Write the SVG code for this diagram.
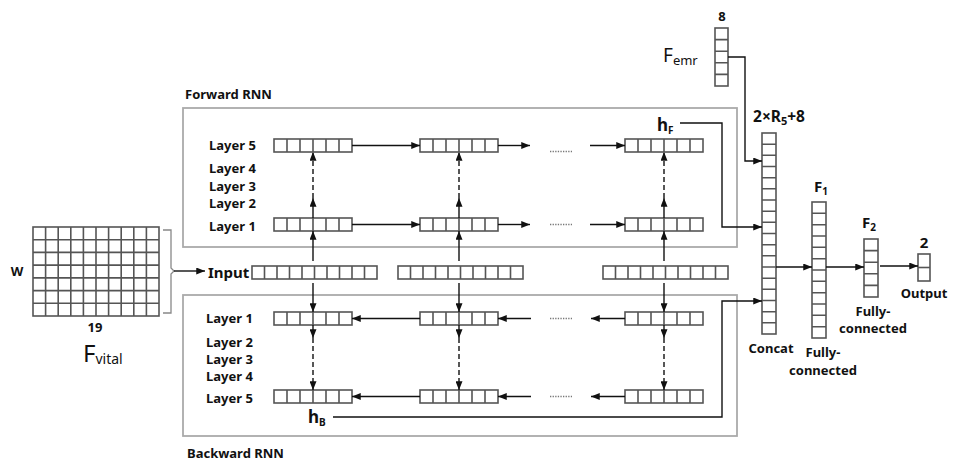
<svg xmlns="http://www.w3.org/2000/svg" xmlns:xlink="http://www.w3.org/1999/xlink" width="968" height="461" viewBox="0 0 968 461">
<style>
text{font-family:"Noto Sans","Open Sans","Liberation Sans",sans-serif;fill:#111}
.b{font-weight:bold;font-size:13px}
.lbl{font-weight:bold;font-size:13px;dominant-baseline:central}
.cell{fill:#fff;stroke:#555;stroke-width:1.6}
.grp{fill:none;stroke:#aaa;stroke-width:1.8}
.c{fill:none;stroke:#111;stroke-width:1.4}
.d{fill:none;stroke:#111;stroke-width:1.4;stroke-dasharray:5 3}
.dots{fill:none;stroke:#777;stroke-width:1.4;stroke-dasharray:1.3 1.3}
</style>
<defs>
<marker id="ah" viewBox="0 0 10 8" refX="10" refY="4" markerWidth="9" markerHeight="7" orient="auto" markerUnits="userSpaceOnUse"><path d="M0,0 L10,4 L0,8 z" fill="#111"/></marker>
<g id="v6"><rect class="cell" x="0" y="0" width="78" height="13"/><path class="cell" d="M13,0V13M26,0V13M39,0V13M52,0V13M65,0V13"/></g>
<g id="v10"><rect class="cell" x="0" y="0" width="125" height="13"/><path class="cell" d="M12.5,0V13M25,0V13M37.5,0V13M50,0V13M62.5,0V13M75,0V13M87.5,0V13M100,0V13M112.5,0V13"/></g>
</defs>
<rect width="968" height="461" fill="#fff"/>

<!-- group frames -->
<g id="forward-rnn">
<rect class="grp" x="183" y="108" width="554" height="139"/>
<text class="lbl" x="185" y="94">Forward  RNN</text>
<text class="lbl" x="209" y="145">Layer 5</text>
<text class="lbl" x="209" y="168">Layer 4</text>
<text class="lbl" x="209" y="186">Layer 3</text>
<text class="lbl" x="209" y="203">Layer 2</text>
<text class="lbl" x="209" y="226">Layer 1</text>
</g>
<g id="backward-rnn">
<rect class="grp" x="183" y="295" width="554" height="141"/>
<text class="lbl" x="187" y="453">Backward  RNN</text>
<text class="lbl" x="206" y="318">Layer 1</text>
<text class="lbl" x="206" y="342">Layer 2</text>
<text class="lbl" x="206" y="359">Layer 3</text>
<text class="lbl" x="206" y="376">Layer 4</text>
<text class="lbl" x="206" y="398">Layer 5</text>
</g>

<!-- F_vital matrix -->
<g id="f-vital">
<rect class="cell" x="33" y="227" width="126" height="89"/>
<path class="cell" d="M45.6,227V316M58.2,227V316M70.8,227V316M83.4,227V316M96,227V316M108.6,227V316M121.2,227V316M133.8,227V316M146.4,227V316M33,239.7H159M33,252.4H159M33,265.1H159M33,277.9H159M33,290.6H159M33,303.3H159"/>
<path d="M163,230H171V268L174,271L171,274V313H163" fill="none" stroke="#888" stroke-width="1.3"/>
<text class="lbl" x="17" y="271" text-anchor="middle">W</text>
<text class="lbl" x="95" y="327" text-anchor="middle">19</text>
<text x="83" y="362" style="font-size:24px">F<tspan style="font-size:14px" dy="2">vital</tspan></text>
</g>

<!-- Input -->
<g id="input">
<text class="lbl" x="208" y="272" style="font-size:15px">Input</text>
<use xlink:href="#v10" x="252" y="266"/>
<use xlink:href="#v10" x="398" y="266"/>
<use xlink:href="#v10" x="603" y="266"/>
</g>

<!-- Forward cells -->
<g id="fwd-cells">
<use xlink:href="#v6" x="274" y="139"/>
<use xlink:href="#v6" x="420" y="139"/>
<use xlink:href="#v6" x="625" y="139"/>
<use xlink:href="#v6" x="274" y="218"/>
<use xlink:href="#v6" x="420" y="218"/>
<use xlink:href="#v6" x="625" y="218"/>
<text x="657" y="131" style="font-size:17px;font-weight:bold">h<tspan style="font-size:10px" dy="3">F</tspan></text>
</g>

<!-- Backward cells -->
<g id="bwd-cells">
<use xlink:href="#v6" x="274" y="312"/>
<use xlink:href="#v6" x="420" y="312"/>
<use xlink:href="#v6" x="625" y="312"/>
<use xlink:href="#v6" x="274" y="390"/>
<use xlink:href="#v6" x="420" y="390"/>
<use xlink:href="#v6" x="625" y="390"/>
<text x="308" y="423" style="font-size:17px;font-weight:bold">h<tspan style="font-size:10px" dy="3">B</tspan></text>
</g>

<!-- F_emr -->
<g id="f-emr">
<rect class="cell" x="715" y="28" width="13" height="58"/>
<path class="cell" d="M715,39.6H728M715,51.2H728M715,62.8H728M715,74.4H728"/>
<text class="lbl" x="722" y="16" text-anchor="middle">8</text>
<text x="663" y="62" style="font-size:19px">F<tspan style="font-size:13px" dy="3">emr</tspan></text>
</g>

<!-- Concat -->
<g id="concat">
<rect class="cell" x="762" y="133" width="14" height="201"/>
<path class="cell" d="M762,144.2H776M762,155.3H776M762,166.5H776M762,177.7H776M762,188.8H776M762,200H776M762,211.2H776M762,222.3H776M762,233.5H776M762,244.7H776M762,255.8H776M762,267H776M762,278.2H776M762,289.3H776M762,300.5H776M762,311.7H776M762,322.8H776"/>
<text class="b" x="779" y="122" text-anchor="middle" style="font-size:15.5px">2×R<tspan style="font-size:11px" dy="3">5</tspan><tspan dy="-3">+8</tspan></text>
<text class="lbl" x="771" y="348" text-anchor="middle">Concat</text>
</g>

<!-- F1 -->
<g id="f1">
<rect class="cell" x="812" y="202" width="14" height="136"/>
<path class="cell" d="M812,213.3H826M812,224.7H826M812,236H826M812,247.3H826M812,258.7H826M812,270H826M812,281.3H826M812,292.7H826M812,304H826M812,315.3H826M812,326.7H826"/>
<text class="b" x="814" y="192" style="font-size:15px">F<tspan style="font-size:10px" dy="3">1</tspan></text>
<text class="lbl" x="823" y="352" text-anchor="middle">Fully-</text>
<text class="lbl" x="823" y="370" text-anchor="middle">connected</text>
</g>

<!-- F2 -->
<g id="f2">
<rect class="cell" x="864" y="239" width="14" height="58"/>
<path class="cell" d="M864,250.6H878M864,262.2H878M864,273.8H878M864,285.4H878"/>
<text class="b" x="862" y="228" style="font-size:15px">F<tspan style="font-size:10px" dy="3">2</tspan></text>
<text class="lbl" x="873" y="311" text-anchor="middle">Fully-</text>
<text class="lbl" x="873" y="328" text-anchor="middle">connected</text>
</g>

<!-- Output -->
<g id="output">
<rect class="cell" x="918" y="254" width="12" height="27"/>
<path class="cell" d="M918,267.5H930"/>
<text class="lbl" x="924" y="242" text-anchor="middle" style="font-size:15px">2</text>
<text class="lbl" x="924" y="293" text-anchor="middle">Output</text>
</g>

<!-- Connectors -->
<g id="connectors">
<path class="c" d="M174,271H205" marker-end="url(#ah)"/>
<!-- forward horizontal -->
<path class="c" d="M352,145.5H420" marker-end="url(#ah)"/>
<path class="c" d="M498,145.5H530" marker-end="url(#ah)"/>
<path class="dots" d="M550,151.5H572"/>
<path class="c" d="M590,145.5H625" marker-end="url(#ah)"/>
<path class="c" d="M352,224.5H420" marker-end="url(#ah)"/>
<path class="c" d="M498,224.5H530" marker-end="url(#ah)"/>
<path class="dots" d="M550,224.5H572"/>
<path class="c" d="M590,224.5H625" marker-end="url(#ah)"/>
<!-- backward horizontal -->
<path class="c" d="M420,318.5H352" marker-end="url(#ah)"/>
<path class="c" d="M531,318.5H498" marker-end="url(#ah)"/>
<path class="dots" d="M550,318.5H572"/>
<path class="c" d="M625,318.5H591" marker-end="url(#ah)"/>
<path class="c" d="M420,396.5H352" marker-end="url(#ah)"/>
<path class="c" d="M531,396.5H498" marker-end="url(#ah)"/>
<path class="dots" d="M550,396.5H572"/>
<path class="c" d="M625,396.5H591" marker-end="url(#ah)"/>
<!-- forward vertical -->
<path class="c" d="M313,261V231" marker-end="url(#ah)"/>
<path class="c" d="M313,218V198" marker-end="url(#ah)"/>
<path class="d" d="M313,198V152" marker-end="url(#ah)"/>
<path class="c" d="M459,261V231" marker-end="url(#ah)"/>
<path class="c" d="M459,218V198" marker-end="url(#ah)"/>
<path class="d" d="M459,198V152" marker-end="url(#ah)"/>
<path class="c" d="M664,261V231" marker-end="url(#ah)"/>
<path class="c" d="M664,218V198" marker-end="url(#ah)"/>
<path class="d" d="M664,198V152" marker-end="url(#ah)"/>
<!-- backward vertical -->
<path class="c" d="M313,283V312" marker-end="url(#ah)"/>
<path class="c" d="M313,325V338" marker-end="url(#ah)"/>
<path class="d" d="M313,338V390" marker-end="url(#ah)"/>
<path class="c" d="M459,283V312" marker-end="url(#ah)"/>
<path class="c" d="M459,325V338" marker-end="url(#ah)"/>
<path class="d" d="M459,338V390" marker-end="url(#ah)"/>
<path class="c" d="M664,283V312" marker-end="url(#ah)"/>
<path class="c" d="M664,325V338" marker-end="url(#ah)"/>
<path class="d" d="M664,338V390" marker-end="url(#ah)"/>
<!-- to concat -->
<path class="c" d="M680,123H722V227H762" marker-end="url(#ah)"/>
<path class="c" d="M333,417H722V301H762" marker-end="url(#ah)"/>
<path class="c" d="M728,57H745V161H762" marker-end="url(#ah)"/>
<path class="c" d="M776,267H812" marker-end="url(#ah)"/>
<path class="c" d="M826,267H864" marker-end="url(#ah)"/>
<path class="c" d="M880,266H918" marker-end="url(#ah)"/>
</g>
</svg>
